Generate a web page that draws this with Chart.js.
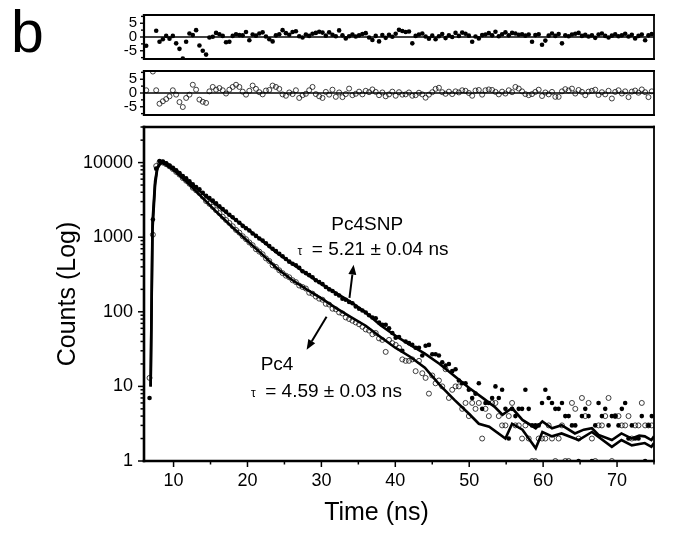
<!DOCTYPE html>
<html><head><meta charset="utf-8">
<script src="https://cdn.jsdelivr.net/npm/chart.js@4"></script>
<style>
html,body{margin:0;padding:0;background:#fff;}
#wrap{position:relative;width:676px;height:544px;overflow:hidden;background:#fff;}
canvas{position:absolute;left:0;}
#panelLabel{position:absolute;left:11px;top:3px;font:59px/59px "Liberation Sans",Arial,sans-serif;color:#000;}
</style></head><body>
<div id="wrap">
<div id="panelLabel">b</div>
<canvas id="res1" width="676" height="64" style="top:0px"></canvas>
<canvas id="res2" width="676" height="60" style="top:62px"></canvas>
<canvas id="main" width="676" height="424" style="top:120px"></canvas>
</div>
<script>
// ---------------- DATA ----------------
// TCSPC channels: time of channel i = CHANNEL_START_NS + i * CHANNEL_WIDTH_NS
const CHANNEL_START_NS = 6.3;
const CHANNEL_WIDTH_NS = 0.45;

// Pc4SNP decay (filled circles), counts per channel
const pc4snpCounts = [
  null, 7, 1720, 8300, 10500, 10300, 9800, 9100, 8500, 7900,
  7250, 6600, 6150, 5600, 5100, 4700, 4400, 3950, 3600, 3350,
  3100, 2850, 2600, 2380, 2200, 2000, 1850, 1700, 1560, 1420,
  1320, 1230, 1120, 1040, 960, 900, 830, 760, 700, 650,
  600, 555, 510, 470, 440, 420, 390, 350, 330, 310,
  290, 265, 250, 235, 215, 200, 190, 175, 165, 150,
  145, 135, 130, 118, 110, 104, 98, 90, 84, 82,
  72, 67, 67, 60, 52, 45, 46, 30, 40, 38,
  36, 33, 33, 26, 35, 36, 27, 27, 26, 21,
  19, 20, 16, 17, 12, 11, 11, 9, 7, 8,
  11, 5, 6, 6, 7, 10, 7, 9, 5, 2,
  5, 4, 5, 5, 9, 5, 3, 3, 3, 6,
  9, 7, 6, 5, 5, 6, 4, 4, 3, 3,
  1, 4, 5, 4, 1, 3, 6, 4, 5, 3,
  4, 4, 3, 5, 6, 2, 3, 2, 2, 4,
  1, 3, 4
];

// Pc4 decay (open circles), counts per channel
const pc4Counts = [
  null, 13, 1080, 9000, 10100, 10000, 9500, 8900, 8200, 7500,
  6900, 6200, 5700, 5200, 4600, 4250, 3900, 3500, 3050, 2800,
  2550, 2300, 2100, 1880, 1700, 1550, 1400, 1250, 1150, 1030,
  940, 850, 780, 690, 640, 590, 520, 480, 420, 400,
  360, 330, 305, 290, 265, 250, 225, 215, 205, 180,
  175, 160, 150, 145, 128, 125, 110, 108, 98, 95,
  84, 80, 76, 72, 68, 63, 58, 56, 50, 52,
  44, 42, 29, 42, 38, 36, 33, 23, 22, 22,
  23, 16, 22, 15, 13, 8, 14, 11, 12, 10,
  17, 7, 9, 10, 10, 5, 6, 4, 6, 5,
  6, 2, 5, 4, 6, 6, 4, 3, 3, 4,
  6, 3, 3, 2, 3, 2, 1, 1, 2, 2,
  2, 3, 2, 1, 2, 3, 1, 1, 6, 5,
  2, 7, 4, 6, 2, 1, 3, 3, 4, 7,
  1, 4, 4, 3, 3, 4, 2, 3, 3, 6,
  3, 3, 3
];

// Weighted residuals
const pc4snpResiduals = [
  -3.2, null, null, 2.3, -1.7, -0.8, 0.4, -0.6, 0.4, -2.3,
  -4.3, -7.8, -1.7, 1.3, 0.7, 2.5, -3.1, -5, -6.4, -0.2,
  0.1, 1.5, 1, 0.4, -1.9, -1.7, 0.4, 1, 0.7, 0.6,
  1.8, -1.2, 0.9, 0.5, 1.3, 1.7, 0.2, -0.8, -1.6, 0.6,
  1, 2.5, 1.4, 0.8, 1.8, 2.1, 0.3, -0.2, 0.9, 0.4,
  1.2, 1.5, 1.9, 1.6, 0.5, 1.7, 0.8, 0.3, 2.4, 0.6,
  -0.5, 0.3, 0.9, 0.2, 0.6, 1.1, 1.4, -0.2, -1.1, 0.4,
  -1.6, 0.7, -0.3, 0.8, 0.1, 1.2, 2.6, 2.2, 1.8, 2,
  -2.3, 0.4, 0.9, 1.3, 0.2, -0.6, 0.5, -0.8, 0.3, 1.1,
  -0.4, 0.6, 0, 1.5, 0.4, 1.6, 1.2, 0.5, -1.7, 0.2,
  -0.5, 0.7, 0.9, 1.4, 0.6, 1.9, 0.3, 1, 1.7, 0.6,
  1.5, 1.3, 0.8, 1, 0.5, 0.9, -1.7, 0.7, 1, -2.8,
  -1.3, 0.5, 1.3, 0.4, 1.1, -2.3, 0.6, 0.3, 0.9, 1.2,
  1.5, 0.4, 0.8, 0.2, 0.6, -0.3, 0.9, 1.3, 0.4, -0.2,
  0.5, 1, 0.3, 0.6, 1.2, 0.2, 0.8, -0.5, 0.4, 0.9,
  -1.2, 0.6, 1.1
];
const pc4Residuals = [
  1, null, 7.8, 1, -3.9, -3, -2.2, -1.2, 1, -0.6,
  -3.3, -5.1, -1.8, -0.6, 3, 1.2, -2.4, -3.2, -3.6, 0.6,
  2.2, 1.2, 1.8, 1, -0.2, 1.2, 2.2, 3, 2.2, 0.5,
  -0.6, 0.8, 2.7, 1.5, 0.3, -0.5, 0.9, 1.1, 2.7, 2.2,
  1.5, -0.5, -1, 0.2, -0.4, 1, -1.8, -0.8, -0.3, 1,
  2.2, -0.4, -1.2, -1.8, 0.4, -0.6, 1.2, -1.4, 0.2, -1.5,
  -0.4, 1.6, -0.8, -0.3, 0.5, -0.5, 0.8, 0.3, 1.3, 0.4,
  -0.8, 0.2, -1.2, -0.5, 0.5, -1, 0.3, -0.6, -0.5, 0.2,
  -1, -0.8, 0.1, -0.5, -1.7, -0.6, 0.3, 1.5, 1.9, 0.3,
  -0.3, 0.5, -0.4, 0.6, 0.2, 1, 0.8, 0, -1, 0.9,
  1.1, -0.6, 1, 1.3, 1.1, 0.4, -0.5, 0.5, -0.2, 1,
  0.3, 2.2, 1.6, 0.6, -0.4, -0.8, -0.4, 0.4, 1.2, -1.1,
  0.2, -0.5, 0.4, -1.4, -1.4, 0.6, 1.4, 0.9, 1.6, -0.2,
  1.1, 0.4, -0.8, 0.5, 0.8, 1.2, -0.7, 0.3, -0.5, 0.8,
  -2, 0.4, 1, -0.2, 0.6, -1.5, 0.5, 0.9, 0.1, 1.3,
  0.3, -1.5, 0.6
];

// Fitted decay curves (time in ns, counts)
const pc4snpFitTime = [6.9, 7.15, 7.5, 7.8, 8.3, 9, 10, 12, 14, 16,
  18, 20, 22, 24, 26, 28, 30, 32, 34, 36,
  38, 40, 42, 44, 46, 48, 50, 52, 53.5, 54.5,
  55.8, 57.2, 59.0, 59.9, 61.2, 62.5, 64.3, 65.5, 66.6, 67.5,
  69.3, 70.6, 72.0, 73.0, 73.75, 74.65, 75];
const pc4snpFitCounts = [10, 1585, 5620, 8510, 10470, 9770, 8320, 5620, 3800, 2630,
  1820, 1290, 895, 615, 445, 322, 236, 178, 135, 98,
  66, 48, 36, 27.5, 20, 13.8, 9.5, 6.8, 5.25, 4.17,
  5.13, 3.55, 2.75, 3.39, 2.75, 3.02, 2.34, 2.63, 2.75, 2.24,
  1.91, 2.34, 2.0, 2.19, 2.14, 1.91, 2.14];
const pc4FitTime = [6.9, 7.15, 7.5, 7.8, 8.3, 9, 10, 12, 14, 16,
  18, 20, 22, 24, 26, 28, 30, 32, 34, 36,
  38, 40, 42, 44, 46, 48, 50, 51.3, 52.7, 54.9,
  55.8, 57.2, 59.0, 59.9, 61.2, 62.5, 64.8, 66.6, 69.3, 70.6,
  72.0, 73.75, 74.65, 75];
const pc4FitCounts = [10, 1260, 5010, 8320, 10000, 9330, 7940, 5250, 3310, 2090,
  1350, 891, 589, 380, 269, 200, 151, 112, 85, 65,
  46, 33, 25, 17.8, 10.5, 6.6, 4.27, 3.16, 2.88, 2.0,
  3.16, 2.63, 1.48, 2.45, 2.14, 2.34, 1.91, 2.45, 1.55, 1.91,
  1.62, 1.74, 1.55, 1.74];

// Tick labels
const timeTickLabels = [10, 20, 30, 40, 50, 60, 70];
const timeMinorTicks = [15, 25, 35, 45, 55, 65, 75];
const countTickLabels = [1, 10, 100, 1000, 10000];
const countMinorTicks = [2,3,4,5,6,7,8,9, 20,30,40,50,60,70,80,90,
  200,300,400,500,600,700,800,900, 2000,3000,4000,5000,6000,7000,8000,9000, 20000,30000];
const residualTickLabels = [-5, 0, 5];
const residualMinorTicks = [-7.5, -2.5, 2.5, 7.5];

// ---------------- CHART ----------------
const FONT = '"Liberation Sans", Arial, Helvetica, sans-serif';
Chart.defaults.font.family = FONT;
Chart.defaults.color = '#000';

const channelTime = i => +(CHANNEL_START_NS + i * CHANNEL_WIDTH_NS).toFixed(3);
function channelPoints(values) {
  const pts = [];
  values.forEach((v, i) => { if (v !== null) pts.push({x: channelTime(i), y: v}); });
  return pts;
}
const pairs = (ts, vs) => ts.map((t, i) => ({x: t, y: vs[i]}));
const noPad = s => { s.paddingTop = 0; s.paddingBottom = 0; s.paddingLeft = 0; s.paddingRight = 0; };

const axesDecor = {
  id: 'axesDecor',
  afterDatasetsDraw(chart, args, o) {
    const {ctx, chartArea: a, scales: {x, y}} = chart;
    ctx.save();
    ctx.strokeStyle = '#000';
    const seg = (x1, y1, x2, y2, w) => { ctx.lineWidth = w; ctx.beginPath(); ctx.moveTo(x1, y1); ctx.lineTo(x2, y2); ctx.stroke(); };
    if (o.zeroLine) { const yz = y.getPixelForValue(0); seg(a.left, yz, a.right, yz, o.zeroLine); }
    const f = o.frame;
    seg(a.left - f.left / 2, a.top, a.right + f.right / 2, a.top, f.top);
    seg(a.left - f.left / 2, a.bottom, a.right + f.right / 2, a.bottom, f.bottom);
    seg(a.left, a.top - f.top / 2, a.left, a.bottom + f.bottom / 2, f.left);
    seg(a.right, a.top - f.top / 2, a.right, a.bottom + f.bottom / 2, f.right);
    (o.yMajor || []).forEach(v => { const p = y.getPixelForValue(v); seg(a.left - o.yMajorLen, p, a.left, p, o.tickWidth); });
    (o.yMinor || []).forEach(v => { const p = y.getPixelForValue(v); seg(a.left - o.yMinorLen, p, a.left, p, o.tickWidth); });
    (o.xMajor || []).forEach(v => { const p = x.getPixelForValue(v); seg(p, a.bottom, p, a.bottom + o.xMajorLen, o.tickWidth); });
    (o.xMinor || []).forEach(v => { const p = x.getPixelForValue(v); seg(p, a.bottom, p, a.bottom + o.xMinorLen, o.tickWidth); });
    if (o.xTitle) {
      ctx.fillStyle = '#000';
      ctx.font = o.xTitle.size + 'px ' + FONT;
      ctx.textAlign = 'center';
      ctx.textBaseline = 'middle';
      ctx.fillText(o.xTitle.text, x.getPixelForValue(o.xTitle.at), a.bottom + o.xTitle.offset);
    }
    ctx.restore();
  }
};

const notes = {
  id: 'notes',
  afterDatasetsDraw(chart, args, o) {
    if (!o.texts) return;
    const {ctx, scales: {x, y}} = chart;
    ctx.save();
    ctx.fillStyle = '#000';
    ctx.strokeStyle = '#000';
    ctx.textBaseline = 'middle';
    o.texts.forEach(n => {
      ctx.font = n.size + 'px ' + FONT;
      ctx.textAlign = n.align;
      ctx.fillText(n.text, x.getPixelForValue(n.t), y.getPixelForValue(n.c) + (n.dy || 0));
    });
    o.arrows.forEach(ar => {
      const x0 = x.getPixelForValue(ar.from[0]), y0 = y.getPixelForValue(ar.from[1]);
      const x1 = x.getPixelForValue(ar.to[0]), y1 = y.getPixelForValue(ar.to[1]);
      const ang = Math.atan2(y1 - y0, x1 - x0);
      const hl = 10, hw = 4;
      const bx = x1 - hl * Math.cos(ang), by = y1 - hl * Math.sin(ang);
      ctx.lineWidth = 2;
      ctx.beginPath(); ctx.moveTo(x0, y0); ctx.lineTo(bx, by); ctx.stroke();
      ctx.beginPath();
      ctx.moveTo(x1, y1);
      ctx.lineTo(bx + hw * Math.sin(ang), by - hw * Math.cos(ang));
      ctx.lineTo(bx - hw * Math.sin(ang), by + hw * Math.cos(ang));
      ctx.closePath(); ctx.fill();
    });
    ctx.restore();
  }
};

const baseOpts = () => ({
  responsive: false, animation: false, devicePixelRatio: 1, events: [],
  plugins: {legend: {display: false}, tooltip: {enabled: false}}
});

function residualChart(id, values, filled, pad) {
  const o = baseOpts();
  o.layout = {padding: {left: 0, right: 22, top: pad.top, bottom: pad.bottom}};
  o.scales = {
    x: {type: 'linear', min: 6, max: 75, display: false, afterFit: noPad},
    y: {
      type: 'linear', min: -8, max: 8,
      afterBuildTicks: s => { s.ticks = residualTickLabels.map(v => ({value: v})); },
      afterFit: s => { s.width = 144; noPad(s); },
      ticks: {callback: v => String(v), font: {size: 15}, padding: 7, color: '#000', autoSkip: false},
      grid: {display: false, drawTicks: false}, border: {display: false}
    }
  };
  o.plugins.axesDecor = {
    frame: {top: 2, right: 1.8, bottom: 2, left: 2.2}, zeroLine: 1.6,
    yMajor: residualTickLabels, yMinor: residualMinorTicks, yMajorLen: 4, yMinorLen: 3, tickWidth: 1.4
  };
  new Chart(document.getElementById(id), {
    type: 'scatter',
    data: {datasets: [{
      data: channelPoints(values),
      pointRadius: filled ? 2.3 : 2.5,
      backgroundColor: filled ? '#000' : 'rgba(0,0,0,0)',
      borderColor: '#111', borderWidth: filled ? 0 : 0.8, showLine: false
    }]},
    options: o, plugins: [axesDecor]
  });
}

residualChart('res1', pc4snpResiduals, true, {top: 15, bottom: 5});
residualChart('res2', pc4Residuals, false, {top: 9, bottom: 7});

const mo = baseOpts();
mo.layout = {padding: {left: 0, right: 22, top: 7, bottom: 0}};
mo.scales = {
  x: {
    type: 'linear', min: 6, max: 75,
    afterBuildTicks: s => { s.ticks = timeTickLabels.map(v => ({value: v})); },
    afterFit: s => { s.height = 83; noPad(s); },
    ticks: {callback: v => String(v), font: {size: 18}, padding: 9, maxRotation: 0, autoSkip: false, color: '#000'},
    grid: {display: false, drawTicks: false}, border: {display: false},
    title: {display: false}
  },
  y: {
    type: 'logarithmic', min: 1, max: 30000,
    afterBuildTicks: s => { s.ticks = countTickLabels.map(v => ({value: v})); },
    afterFit: s => { s.width = 144; noPad(s); },
    ticks: {callback: v => String(v), font: {size: 18}, padding: 11, color: '#000', autoSkip: false},
    grid: {display: false, drawTicks: false}, border: {display: false},
    title: {display: true, text: 'Counts (Log)', font: {size: 25}, color: '#000', padding: {top: 53, bottom: 0}}
  }
};
mo.plugins.axesDecor = {
  frame: {top: 2.6, right: 1.8, bottom: 2.6, left: 2.6},
  yMajor: countTickLabels, yMinor: countMinorTicks, yMajorLen: 6, yMinorLen: 3.5,
  xMajor: timeTickLabels, xMinor: timeMinorTicks, xMajorLen: 6, xMinorLen: 3.5, tickWidth: 1.5,
  xTitle: {text: 'Time (ns)', size: 25, at: 37.45, offset: 52}
};
mo.plugins.notes = {
  texts: [
    {text: 'Pc4SNP', t: 36.2, c: 1470, align: 'center', size: 19},
    {text: 'τ', t: 27.1, c: 679, align: 'center', size: 12, dy: 2},
    {text: '= 5.21 ± 0.04 ns', t: 28.7, c: 679, align: 'left', size: 19},
    {text: 'Pc4', t: 24.0, c: 19.5, align: 'center', size: 19},
    {text: 'τ', t: 20.8, c: 8.4, align: 'center', size: 12, dy: 2},
    {text: '= 4.59 ± 0.03 ns', t: 22.4, c: 8.4, align: 'left', size: 19}
  ],
  arrows: [
    {from: [33.8, 154], to: [34.36, 428]},
    {from: [30.7, 86], to: [28.0, 31]}
  ]
};

new Chart(document.getElementById('main'), {
  type: 'scatter',
  data: {datasets: [
    {label: 'Pc4SNP fit', data: pairs(pc4snpFitTime, pc4snpFitCounts), showLine: true,
     borderColor: '#000', borderWidth: 2.6, pointRadius: 0, tension: 0, fill: false},
    {label: 'Pc4 fit', data: pairs(pc4FitTime, pc4FitCounts), showLine: true,
     borderColor: '#000', borderWidth: 2.6, pointRadius: 0, tension: 0, fill: false},
    {label: 'Pc4SNP', data: channelPoints(pc4snpCounts), showLine: false,
     pointRadius: 2.3, backgroundColor: '#000', borderWidth: 0},
    {label: 'Pc4', data: channelPoints(pc4Counts), showLine: false,
     pointRadius: 2.5, backgroundColor: 'rgba(0,0,0,0)', borderColor: '#111', borderWidth: 0.8}
  ]},
  options: mo, plugins: [axesDecor, notes]
});
</script>
</body></html>
